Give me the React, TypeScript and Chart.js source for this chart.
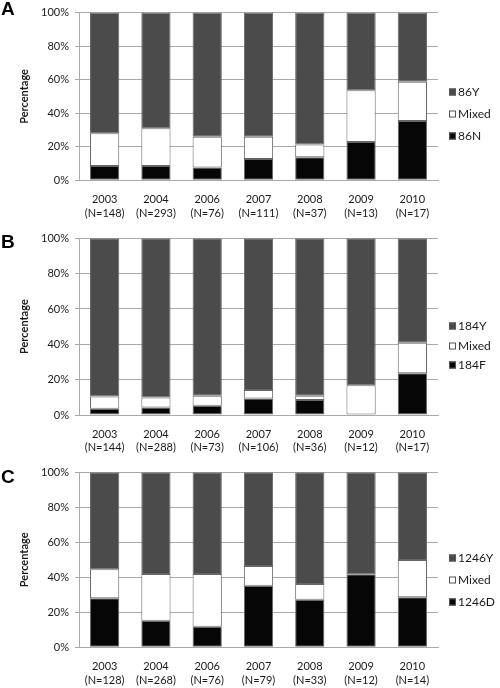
import React, { useEffect, useRef } from "react";
import { Chart, registerables } from "chart.js";
Chart.register(...registerables);

// ---------- data ----------
const years = ["2003", "2004", "2006", "2007", "2008", "2009", "2010"];

const nA = [148, 293, 76, 111, 37, 13, 17];
const seriesNamesA = ["86Y", "Mixed", "86N"];
const wildA = [72.0, 68.9, 74.0, 74.0, 78.6, 46.3, 41.3];
const mixedA = [19.5, 22.6, 18.4, 13.3, 7.7, 30.9, 23.4];
const mutA = [8.5, 8.5, 7.6, 12.7, 13.7, 22.8, 35.3];

const nB = [144, 288, 73, 106, 36, 12, 17];
const seriesNamesB = ["184Y", "Mixed", "184F"];
const wildB = [89.6, 90.1, 89.1, 85.9, 89.1, 83.2, 59.1];
const mixedB = [6.8, 5.6, 5.6, 4.7, 2.4, 16.8, 17.3];
const mutB = [3.6, 4.3, 5.3, 9.4, 8.5, 0, 23.6];

const nC = [128, 268, 76, 79, 33, 12, 14];
const seriesNamesC = ["1246Y", "Mixed", "1246D"];
const wildC = [55.4, 58.1, 58.1, 53.5, 63.8, 58.3, 50.1];
const mixedC = [16.6, 26.7, 30.1, 11.3, 9.0, 0, 21.3];
const mutC = [28.0, 15.2, 11.8, 35.2, 27.2, 41.7, 28.6];

const yTicks = [0, 20, 40, 60, 80, 100];

// ---------- styles ----------
const WILD = "#4b4b4b";
const MIXED = "#ffffff";
const MUT = "#060606";
const EDGE = "#666666";
const GRID = "#a9a9a9";
const TEXT = "#1a1a1a";
const FONT = "Lato, 'Noto Sans', sans-serif";

type PanelCfg = {
  letter: string;
  n: number[];
  names: string[];
  wild: number[];
  mixed: number[];
  mut: number[];
  top: number;
  height: number;
  padTop: number;
  xHeight: number;
  letterY: number;
  legendYs: number[];
};

const panels: PanelCfg[] = [
  { letter: "A", n: nA, names: seriesNamesA, wild: wildA, mixed: mixedA, mut: mutA,
    top: 0, height: 230, padTop: 4.7, xHeight: 49.7, letterY: 15, legendYs: [92, 114, 136] },
  { letter: "B", n: nB, names: seriesNamesB, wild: wildB, mixed: mixedB, mut: mutB,
    top: 220, height: 245, padTop: 18.3, xHeight: 50, letterY: 28, legendYs: [106, 126, 145] },
  { letter: "C", n: nC, names: seriesNamesC, wild: wildC, mixed: mixedC, mut: mutC,
    top: 450, height: 238, padTop: 22.3, xHeight: 40.7, letterY: 33, legendYs: [108, 130, 152] },
];

function makeOverlay(cfg: PanelCfg) {
  return {
    id: "panelOverlay",
    afterDraw(chart: any) {
      const ctx = chart.ctx;
      ctx.save();
      // panel letter
      ctx.fillStyle = "#000";
      ctx.font = "bold 19px 'Liberation Sans', Arial, sans-serif";
      ctx.textAlign = "left";
      ctx.textBaseline = "alphabetic";
      ctx.fillText(cfg.letter, 1, cfg.letterY);
      // legend (top to bottom: wild, mixed, mutant) from datasets
      const ds = chart.data.datasets;
      const order = [2, 1, 0];
      const boxX = 449;
      ctx.font = `12px ${FONT}`;
      ctx.textBaseline = "middle";
      order.forEach((di, row) => {
        const d = ds[di];
        const y = cfg.legendYs[row];
        ctx.fillStyle = d.backgroundColor;
        ctx.fillRect(boxX, y - 3.5, 7, 7);
        ctx.strokeStyle = "#555";
        ctx.lineWidth = 1;
        ctx.strokeRect(boxX + 0.5, y - 3, 6, 6);
        ctx.fillStyle = TEXT;
        ctx.fillText(d.label, boxX + 9, y + 0.5);
      });
      ctx.restore();
    },
  };
}

function Panel({ cfg }: { cfg: PanelCfg }) {
  const ref = useRef<HTMLCanvasElement>(null);
  useEffect(() => {
    const labels = years.map((y, i) => [y, `(N=${cfg.n[i]})`]);
    const common = {
      borderColor: EDGE,
      borderWidth: 1,
      borderSkipped: false as const,
      barPercentage: 0.57,
      categoryPercentage: 1,
    };
    const chart = new Chart(ref.current as HTMLCanvasElement, {
      type: "bar",
      data: {
        labels,
        datasets: [
          { label: cfg.names[2], data: cfg.mut, backgroundColor: MUT, ...common },
          { label: cfg.names[1], data: cfg.mixed, backgroundColor: MIXED, ...common },
          { label: cfg.names[0], data: cfg.wild, backgroundColor: WILD, ...common },
        ],
      },
      options: {
        animation: false,
        responsive: false,
        devicePixelRatio: 1,
        layout: {
          autoPadding: false,
          padding: { top: cfg.padTop, right: 62, left: 0, bottom: 0 },
        },
        plugins: {
          legend: { display: false },
          tooltip: { enabled: false },
        },
        scales: {
          x: {
            stacked: true,
            grid: { display: false, drawTicks: false },
            border: { display: true, color: GRID, width: 1 },
            ticks: {
              padding: 13,
              maxRotation: 0,
              autoSkip: false,
              color: TEXT,
              font: { family: FONT, size: 11 },
            },
            afterFit: (s: any) => {
              s.height = cfg.xHeight;
            },
          },
          y: {
            stacked: true,
            min: 0,
            max: 100,
            afterBuildTicks: (s: any) => {
              s.ticks = yTicks.map((v) => ({ value: v }));
            },
            grid: { color: GRID, tickLength: 4, lineWidth: 1 },
            border: { display: true, color: GRID, width: 1 },
            ticks: {
              padding: 6,
              color: TEXT,
              font: { family: FONT, size: 11 },
              callback: (v: any) => `${v}%`,
            },
            title: {
              display: true,
              text: "Percentage",
              color: TEXT,
              font: { family: FONT, size: 11, weight: "bold" },
              padding: { top: 18, bottom: 0 },
            },
            afterFit: (s: any) => {
              s.width = 79;
            },
          },
        },
      },
      plugins: [makeOverlay(cfg)],
    });
    return () => chart.destroy();
  }, []);
  return (
    <canvas
      ref={ref}
      width={500}
      height={cfg.height}
      style={{ position: "absolute", left: 0, top: cfg.top, width: 500, height: cfg.height }}
    />
  );
}

export default function App() {
  return (
    <div style={{ position: "absolute", left: 0, top: 0, width: 500, height: 688, background: "#fff", overflow: "hidden" }}>
      {panels.map((p) => (
        <Panel key={p.letter} cfg={p} />
      ))}
    </div>
  );
}
